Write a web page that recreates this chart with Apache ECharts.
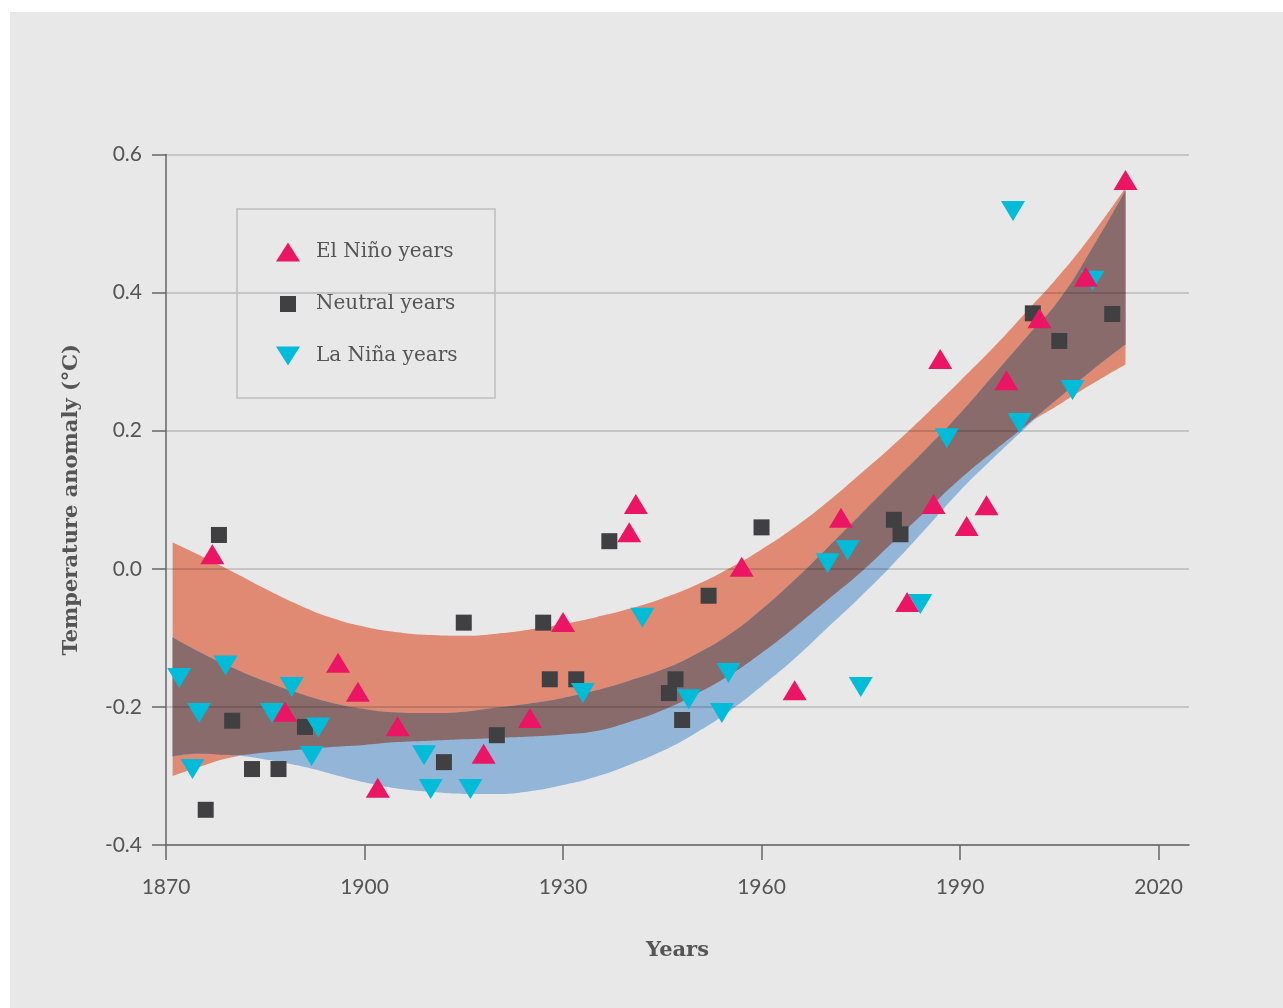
<!DOCTYPE html>
<html><head><meta charset="utf-8">
<script src="https://cdn.jsdelivr.net/npm/echarts@6/dist/echarts.min.js"></script>
<style>
html,body{margin:0;padding:0;background:#ffffff;}
#chart{position:absolute;left:10px;top:12px;width:1273px;height:996px;}
</style></head><body><div id="chart"></div>
<script>
// ---- data ----
const bandYears = [1871, 1875, 1880, 1885, 1890, 1895, 1900, 1905, 1910, 1915, 1920, 1925, 1930, 1935, 1940, 1945, 1950, 1955, 1960, 1965, 1970, 1975, 1980, 1985, 1990, 1995, 2000, 2005, 2010, 2015];
const elNinoUpper = [0.038, 0.020, -0.004, -0.029, -0.052, -0.071, -0.084, -0.092, -0.096, -0.097, -0.094, -0.088, -0.080, -0.070, -0.058, -0.043, -0.024, 0.000, 0.028, 0.060, 0.097, 0.138, 0.180, 0.225, 0.272, 0.320, 0.372, 0.425, 0.485, 0.552];
const elNinoLower = [-0.300, -0.287, -0.273, -0.266, -0.262, -0.258, -0.255, -0.251, -0.249, -0.247, -0.245, -0.243, -0.240, -0.235, -0.222, -0.205, -0.182, -0.155, -0.122, -0.085, -0.045, -0.005, 0.040, 0.085, 0.130, 0.170, 0.208, 0.238, 0.268, 0.296];
const laNinaUpper = [-0.099, -0.120, -0.143, -0.163, -0.180, -0.194, -0.203, -0.208, -0.209, -0.207, -0.201, -0.195, -0.187, -0.176, -0.162, -0.146, -0.124, -0.096, -0.059, -0.016, 0.031, 0.079, 0.127, 0.175, 0.225, 0.280, 0.335, 0.390, 0.465, 0.548];
const laNinaLower = [-0.272, -0.268, -0.270, -0.276, -0.285, -0.297, -0.309, -0.318, -0.323, -0.326, -0.326, -0.322, -0.313, -0.301, -0.284, -0.264, -0.238, -0.207, -0.170, -0.130, -0.085, -0.040, 0.008, 0.060, 0.113, 0.160, 0.205, 0.248, 0.288, 0.325];

const elNinoYears = [1877, 1888, 1896, 1899, 1902, 1905, 1918, 1925, 1930, 1940, 1941, 1957, 1965, 1972, 1982, 1986, 1987, 1991, 1994, 1997, 2002, 2009, 2015];
const elNinoValues = [0.021, -0.207, -0.136, -0.178, -0.317, -0.228, -0.268, -0.216, -0.077, 0.053, 0.094, 0.003, -0.176, 0.074, -0.048, 0.094, 0.304, 0.062, 0.092, 0.273, 0.363, 0.423, 0.563];

const neutralYears = [1876, 1878, 1880, 1883, 1887, 1891, 1912, 1915, 1920, 1927, 1928, 1932, 1937, 1946, 1947, 1948, 1952, 1960, 1980, 1981, 2001, 2005, 2013];
const neutralValues = [-0.349, 0.049, -0.220, -0.290, -0.290, -0.229, -0.280, -0.078, -0.241, -0.078, -0.160, -0.160, 0.040, -0.180, -0.160, -0.219, -0.039, 0.060, 0.071, 0.050, 0.370, 0.330, 0.369];

const laNinaYears = [1872, 1874, 1875, 1879, 1886, 1889, 1892, 1893, 1909, 1910, 1916, 1933, 1942, 1949, 1954, 1955, 1970, 1973, 1975, 1984, 1988, 1998, 1999, 2007, 2010];
const laNinaValues = [-0.158, -0.290, -0.209, -0.140, -0.209, -0.171, -0.271, -0.230, -0.270, -0.319, -0.319, -0.180, -0.071, -0.189, -0.209, -0.151, 0.008, 0.027, -0.171, -0.051, 0.189, 0.518, 0.211, 0.259, 0.417];

const xTickValues = [1870, 1900, 1930, 1960, 1990, 2020];
const yMin = -0.4, yMax = 0.6, yStep = 0.2;

const seriesNames = ['El Niño years', 'Neutral years', 'La Niña years'];
const xTitle = 'Years';
const yTitle = 'Temperature anomaly (°C)';

// ---- styles ----
const PINK = '#EC1563', DARK = '#404042', CYAN = '#00BCD9';
const SALMON = '#E08A74', BLUE = '#93B6D8', OVERLAP = '#8A6B6B';
const TXT = '#555555';

const overlapLower = bandYears.map((_, i) => Math.max(elNinoLower[i], laNinaLower[i]));
const overlapUpper = bandYears.map((_, i) => Math.min(elNinoUpper[i], laNinaUpper[i]));

// data as [value, year] with encode so the stack acts on the y value
function bandSeries(id, lower, upper, color) {
  return [
    { type: 'line', id: id + '_lo', stack: id, stackStrategy: 'all', encode: { x: 1, y: 0 },
      data: bandYears.map((yr, i) => [lower[i], yr]),
      symbol: 'none', smooth: 0.5, silent: true, z: 1,
      lineStyle: { width: 0, opacity: 0 } },
    { type: 'line', id: id + '_hi', stack: id, stackStrategy: 'all', encode: { x: 1, y: 0 },
      data: bandYears.map((yr, i) => [upper[i] - lower[i], yr]),
      symbol: 'none', smooth: 0.5, silent: true, z: 1,
      lineStyle: { width: 0, opacity: 0 },
      areaStyle: { color: color, opacity: 1 } }
  ];
}

const upTri = 'path://M0 0L0 0M46 20L46 20M11 19.5L23 0.5L35 19.5Z';
const sqIcon = 'path://M0 0L0 0M46 20L46 20M15 2L31 2L31 18L15 18Z';
const downTri = 'path://M0 0L0 0M46 20L46 20M11 0.5L35 0.5L23 19.5Z';
const downTriSymbol = 'path://M0 0L24 0L12 20Z';

const chart = echarts.init(document.getElementById('chart'));
chart.setOption({
  backgroundColor: '#e8e8e8',
  animation: false,
  grid: { left: 156, right: 94, top: 142.5, bottom: 163, containLabel: false, outerBoundsMode: 'none' },
  xAxis: {
    type: 'value', min: 1870, max: 2024.6, interval: 30, z: 2,
    name: xTitle, nameLocation: 'middle', nameGap: 95,
    nameTextStyle: { fontFamily: 'DejaVu Serif', fontWeight: 'bold', fontSize: 21, color: TXT },
    axisLine: { show: true, onZero: false, lineStyle: { color: '#666', width: 1.5 } },
    axisTick: { show: true, length: 15, customValues: xTickValues, lineStyle: { color: '#666', width: 1.5 } },
    axisLabel: { customValues: xTickValues, margin: 32, fontFamily: 'Lato', fontSize: 21, color: TXT, formatter: v => String(v) },
    splitLine: { show: false }
  },
  yAxis: {
    type: 'value', min: yMin, max: yMax, interval: yStep, z: 2,
    name: yTitle, nameLocation: 'middle', nameGap: 84,
    nameTextStyle: { fontFamily: 'DejaVu Serif', fontWeight: 'bold', fontSize: 21, color: TXT },
    axisLine: { show: true, onZero: false, lineStyle: { color: '#666', width: 1.5 } },
    axisTick: { show: true, length: 14, lineStyle: { color: '#666', width: 1.5 } },
    axisLabel: { margin: 24, fontFamily: 'Lato', fontSize: 21, color: TXT,
      formatter: v => (Math.abs(v) < 1e-9 ? '0.0' : v.toFixed(1)) },
    splitLine: { show: true, lineStyle: { color: 'rgba(0,0,0,0.2)', width: 1.5 } }
  },
  legend: {
    show: true, orient: 'vertical', left: 255, top: 230, padding: 0,
    itemWidth: 46, itemHeight: 20, itemGap: 32, selectedMode: false,
    symbolKeepAspect: false,
    textStyle: { fontFamily: 'DejaVu Serif', fontSize: 20, color: TXT, padding: [0, 0, 0, 0] },
    data: [
      { name: seriesNames[0], icon: upTri },
      { name: seriesNames[1], icon: sqIcon },
      { name: seriesNames[2], icon: downTri }
    ]
  },
  graphic: [{
    type: 'rect', silent: true, z: 5,
    shape: { x: 227, y: 197, width: 258, height: 189 },
    style: { fill: 'none', stroke: '#bdbdbd', lineWidth: 1.5 }
  }],
  series: [
    ...bandSeries('elnino', elNinoLower, elNinoUpper, SALMON),
    ...bandSeries('lanina', laNinaLower, laNinaUpper, BLUE),
    ...bandSeries('overlap', overlapLower, overlapUpper, OVERLAP),
    { type: 'scatter', name: seriesNames[1], symbol: 'rect', symbolSize: 16, z: 4,
      itemStyle: { color: DARK, opacity: 1 },
      data: neutralYears.map((yr, i) => [yr, neutralValues[i]]) },
    { type: 'scatter', name: seriesNames[2], symbol: downTriSymbol, symbolSize: [24, 20], z: 4,
      itemStyle: { color: CYAN, opacity: 1 },
      data: laNinaYears.map((yr, i) => [yr, laNinaValues[i]]) },
    { type: 'scatter', name: seriesNames[0], symbol: 'triangle', symbolSize: [24, 20], z: 4,
      itemStyle: { color: PINK, opacity: 1 },
      data: elNinoYears.map((yr, i) => [yr, elNinoValues[i]]) }
  ]
});
</script></body></html>
